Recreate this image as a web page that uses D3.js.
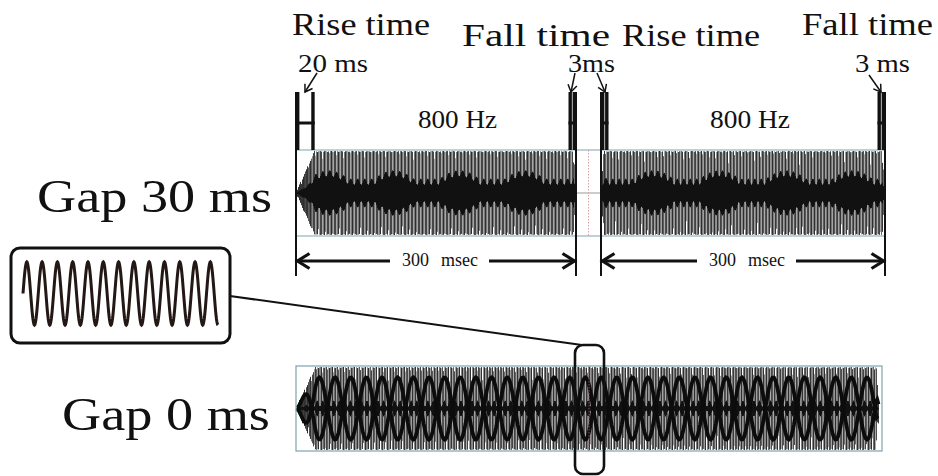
<!DOCTYPE html>
<html><head><meta charset="utf-8">
<script src="https://cdn.jsdelivr.net/npm/d3@7"></script>
<style>
html,body{margin:0;padding:0;background:#fff;}
svg{display:block;}
</style></head>
<body><svg id="chart" width="938" height="476"></svg>
<script>
// ---- Stimulus parameters ----
const toneFreqHz = 800;
const toneDurMs = 300;
const gapMs = [30, 0];            // top row, bottom row
const riseMs = [20, 3];           // first tone, second tone
const fallMs = [3, 3];
const sampleRateHz = 11025;
const rowLabels = ["Gap 30 ms", "Gap 0 ms"];
const phaseLabels = ["Rise time", "Fall time", "Rise time", "Fall time"];
const phaseValueLabels = ["20 ms", "3ms", "3 ms"];
const freqLabel = "800 Hz";
const durLabel = ["300", "msec"];
const insetCycles = 12.75;

// screen-trace settings per row
const traceDetune = [0.0045, 0.0203];   // offset of the half-period trace
const traceScale = [0.47, 0.75];        // height of the trace
const coreScale = [0.27, 0.12];         // dark core
const traceFilled = [true, false];      // filled band or outline lattice

const svg = d3.select("#chart");
const INK = "#111";
const SERIF = '"Liberation Serif","Times New Roman",serif';

// ---- time scales for the two rows ----
const totalTop = 2 * toneDurMs + gapMs[0];
const totalBot = 2 * toneDurMs + gapMs[1];
const xTop = d3.scaleLinear()
  .domain([0, toneDurMs, toneDurMs + gapMs[0], totalTop])
  .range([296, 576, 601, 885]);
const xBot = d3.scaleLinear().domain([0, totalBot]).range([296, 882]);
const yTop = d3.scaleLinear().domain([-1, 1]).range([235, 151]);
const yBot = d3.scaleLinear().domain([-1, 1]).range([450, 367]);

// tone envelope (linear ramps)
function env(t, rise, fall) {
  if (t < 0 || t > toneDurMs) return 0;
  if (t < rise) return t / rise;
  if (t > toneDurMs - fall) return (toneDurMs - t) / fall;
  return 1;
}
function envelope(t, gap) {
  // with no gap the second tone's onset ramp overlaps the first tone's offset ramp
  const on2 = gap > 0 ? toneDurMs + gap : toneDurMs - fallMs[0];
  return Math.min(1, env(t, riseMs[0], fallMs[0]) + env(t - on2, riseMs[1], fallMs[1]));
}
function signal(t, gap) {
  return envelope(t, gap) * Math.sin(2 * Math.PI * toneFreqHz * t / 1000);
}

// one display column per pixel: peak range, envelope, sample at column start,
// and the nearest value of the half-period screen trace
function columns(x, total, gap, step) {
  const cols = [];
  for (let p = Math.floor(x(0)); p < x(total); p++) {
    const t0 = Math.max(0, x.invert(p)), t1 = Math.min(total, x.invert(p + 1));
    const n0 = Math.ceil(t0 * sampleRateHz / 1000), n1 = Math.floor(t1 * sampleRateHz / 1000);
    let mn = 0, mx = 0, k = 0;
    for (let n = n0; n <= n1; n++) {
      const v = signal(n * 1000 / sampleRateHz, gap);
      mn = Math.min(mn, v); mx = Math.max(mx, v); k++;
    }
    const tm = (t0 + t1) / 2;
    if (k && mx - mn > 0.02) cols.push({
      p, mn, mx, e: envelope(tm, gap), v0: signal(t0, gap),
      u: signal(Math.round(tm / step) * step, gap)
    });
  }
  return cols;
}

function drawWave(g, x, y, total, gap, row) {
  const step = (0.5 + traceDetune[row]) * 1000 / toneFreqHz;
  const cols = columns(x, total, gap, step);
  const shade = d3.scaleLinear().domain([0, 1]).range(["#2e2e2e", "#ababab"]);
  g.selectAll("rect.pk").data(cols).join("rect").attr("class", "pk")
    .attr("x", d => d.p).attr("width", 1)
    .attr("y", d => y(d.mx)).attr("height", d => y(d.mn) - y(d.mx))
    .attr("fill", d => shade(d.v0 * d.v0));
  // dark band around the centre line
  const core = coreScale[row], sc = traceScale[row];
  const half = d => Math.max(0, (traceFilled[row] ? Math.max(core * d.e, sc * Math.abs(d.u)) : core * d.e)
    + 0.07 * d.v0 * d.e);
  g.selectAll("rect.band").data(cols).join("rect").attr("class", "band")
    .attr("x", d => d.p).attr("width", 1)
    .attr("y", d => y(half(d))).attr("height", d => y(-half(d)) - y(half(d)))
    .attr("fill", "#111");
  if (!traceFilled[row]) {
    // even and odd samples of the half-period trace form two mirrored slow curves
    const pts = d3.range(0, total, step).map((t, n) => ({ t, n, v: signal(t, gap), e: envelope(t, gap) }));
    const ln = d3.line().defined(d => d.e > 0).x(d => x(d.t)).y(d => y(d.v * sc));
    [0, 1].forEach(par => g.append("path")
      .attr("d", ln(pts.filter(d => d.n % 2 === par)))
      .attr("fill", "none").attr("stroke", "#0c0c0c").attr("stroke-width", 3.8));
  }
}

// ---- top row ----
const gTop = svg.append("g");
drawWave(gTop, xTop, yTop, totalTop, gapMs[0], 0);
gTop.append("line").attr("x1", xTop(toneDurMs)).attr("x2", xTop(toneDurMs + gapMs[0]))
  .attr("y1", yTop(0)).attr("y2", yTop(0)).attr("stroke", "#999").attr("stroke-width", 1);
gTop.append("line").attr("x1", xTop(toneDurMs + gapMs[0] / 2)).attr("x2", xTop(toneDurMs + gapMs[0] / 2))
  .attr("y1", 150).attr("y2", 236).attr("stroke", "#d9a0a8").attr("stroke-width", 1)
  .attr("stroke-dasharray", "1.5,1.5");
[150, 236].forEach(yy => gTop.append("line").attr("x1", 296).attr("x2", 885)
  .attr("y1", yy).attr("y2", yy).attr("stroke", "#7fa3ae").attr("stroke-width", 1.2));

// ---- bottom row ----
const gBot = svg.append("g");
drawWave(gBot, xBot, yBot, totalBot, gapMs[1], 1);
gBot.append("line").attr("x1", xBot(toneDurMs)).attr("x2", xBot(toneDurMs))
  .attr("y1", 366).attr("y2", 451).attr("stroke", "#8a4a5a").attr("stroke-width", 1)
  .attr("stroke-dasharray", "1.5,1.5");
gBot.append("rect").attr("x", 296).attr("y", 366).attr("width", 586).attr("height", 85)
  .attr("fill", "none").attr("stroke", "#7fa3ae").attr("stroke-width", 1.2);

// ---- onset / offset markers (H) ----
const edges = [
  { t: 0, ramp: riseMs[0], dir: 1 },
  { t: toneDurMs, ramp: fallMs[0], dir: -1 },
  { t: toneDurMs + gapMs[0], ramp: riseMs[1], dir: 1 },
  { t: totalTop, ramp: fallMs[1], dir: -1 }
];
edges.forEach(e => {
  const xe = xTop(e.t);
  const xr = xTop(e.t + e.dir * e.ramp);
  const w = Math.max(Math.abs(xr - xe), 7.5);
  const xo = xe + e.dir * w;
  const x1 = Math.min(xe, xo), x2 = Math.max(xe, xo);
  svg.append("line").attr("x1", xe).attr("x2", xe).attr("y1", 92).attr("y2", 276)
    .attr("stroke", INK).attr("stroke-width", 2);
  [x1 + 1.7, x2 - 1.7].forEach(xb => svg.append("line").attr("x1", xb).attr("x2", xb)
    .attr("y1", 92).attr("y2", 150).attr("stroke", INK).attr("stroke-width", 3.4));
  svg.append("line").attr("x1", x1).attr("x2", x2).attr("y1", 123).attr("y2", 123)
    .attr("stroke", INK).attr("stroke-width", 3);
});

// ---- arrows ----
function chevron(x, y, ang, len, half, sw) {
  const c = Math.cos(ang), s = Math.sin(ang);
  const p = (a, b) => [x - c * a + s * b, y - s * a - c * b];
  const p1 = p(len, half), p2 = p(len, -half);
  svg.append("path").attr("d", `M${p1[0]},${p1[1]}L${x},${y}L${p2[0]},${p2[1]}`)
    .attr("fill", "none").attr("stroke", INK).attr("stroke-width", sw);
}
function arrow(x1, y1, x2, y2, len, half, sw) {
  svg.append("line").attr("x1", x1).attr("y1", y1).attr("x2", x2).attr("y2", y2)
    .attr("stroke", INK).attr("stroke-width", sw);
  chevron(x2, y2, Math.atan2(y2 - y1, x2 - x1), len, half, sw);
}
function label(x, y, txt, size, len) {
  svg.append("text").attr("x", x).attr("y", y).attr("font-size", size)
    .style("font-family", SERIF)
    .attr("textLength", len).attr("lengthAdjust", "spacingAndGlyphs")
    .attr("fill", INK).text(txt);
}
// duration arrows
[[0, toneDurMs], [toneDurMs + gapMs[0], totalTop]].forEach(([a, b], i) => {
  const xa = xTop(a) + 1.5, xb = xTop(b) - 1.5;
  const cx = [439, 746][i];
  arrow(cx - 49, 261, xa, 261, 12, 7.5, 3.2);
  arrow(cx + 50, 261, xb, 261, 12, 7.5, 3.2);
  label(cx - 37, 266, durLabel[0], 19, 27);
  label(cx + 2, 266, durLabel[1], 19, 37);
});
// label pointers
arrow(317, 73, 305, 92, 7, 4.5, 1.5);
arrow(575, 73, 571, 92, 7, 4.5, 1.5);
arrow(597, 73, 605, 92, 7, 4.5, 1.5);
arrow(869, 75, 881, 92, 7, 4.5, 1.5);

// ---- text ----
label(292, 35, phaseLabels[0], 31, 138);
label(462, 46, phaseLabels[1], 31, 148);
label(622, 46, phaseLabels[2], 31, 138);
label(802, 35, phaseLabels[3], 31, 131);
label(298, 72, phaseValueLabels[0], 26, 70);
label(568, 72, phaseValueLabels[1], 26, 47);
label(855, 72, phaseValueLabels[2], 26, 55);
label(418, 128, freqLabel, 26, 79);
label(710, 128, freqLabel, 26, 80);
label(37, 212, rowLabels[0], 46, 235);
label(62, 430, rowLabels[1], 46, 208);

// ---- magnified view ----
svg.append("rect").attr("x", 11).attr("y", 248).attr("width", 219).attr("height", 95)
  .attr("rx", 9).attr("fill", "#fff").attr("stroke", INK).attr("stroke-width", 3);
const xIn = d3.scaleLinear().domain([0, insetCycles]).range([23, 218]);
const yIn = d3.scaleLinear().domain([-1, 1]).range([325, 262]);
const inPts = d3.range(0, insetCycles + 1e-9, 1 / 40).map(c => [c, Math.sin(2 * Math.PI * c)]);
svg.append("path").attr("d", d3.line().x(d => xIn(d[0])).y(d => yIn(d[1]))(inPts))
  .attr("fill", "none").attr("stroke", "#231815").attr("stroke-width", 3);
svg.append("line").attr("x1", 230).attr("y1", 296).attr("x2", 582).attr("y2", 345)
  .attr("stroke", INK).attr("stroke-width", 2);
svg.append("rect").attr("x", xBot(toneDurMs) - 14).attr("y", 345).attr("width", 29).attr("height", 129)
  .attr("rx", 8).attr("fill", "none").attr("stroke", INK).attr("stroke-width", 2.6);
</script></body></html>
